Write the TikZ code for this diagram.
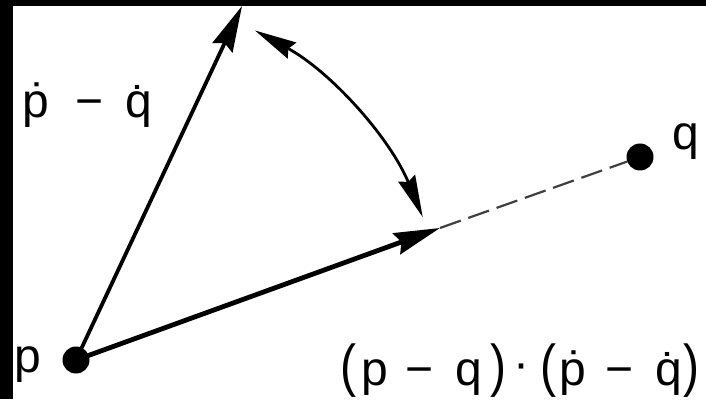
\documentclass[tikz,border=0pt]{standalone}
\usepackage{fontspec}
\usepackage{graphicx}
\setmainfont{Liberation Sans}
\usetikzlibrary{arrows.meta}
\newcommand{\lblfont}{\fontsize{48}{52}\selectfont}
\newcommand{\tallparen}[1]{\scalebox{1}[1.2]{#1}}
\tikzset{
  dotnode/.style={circle, fill=black, inner sep=0pt, minimum size=27pt},
  vecarrow/.style={line width=4.8pt, -{Stealth[length=46pt,width=22pt,inset=5pt]}},
  thinvec/.style={line width=3.8pt, -{Stealth[length=46pt,width=22pt,inset=5pt]}},
  anglearrow/.style={line width=2.8pt, {Stealth[length=42pt,width=18pt,inset=4pt]}-{Stealth[length=42pt,width=18pt,inset=4pt]}},
  dashline/.style={line width=2.2pt, black!75, dash pattern=on 22pt off 8pt},
  lbl/.style={inner sep=0pt, font=\lblfont}
}
\begin{document}
\begin{tikzpicture}[x=1pt,y=1pt]
\useasboundingbox (0,0) rectangle (706,399);
\fill[white] (0,0) rectangle (706,399);
% points
\node[dotnode] (p) at (76,39) {};
\node[dotnode] (q) at (640,242) {};
\coordinate (a) at (242,393);
\coordinate (m) at (440,171);
% vectors
\draw[thinvec] (p.center) -- (a);
\draw[dashline] (m) -- (q);
\draw[vecarrow] (p.center) -- (m);
% angle arrow
\draw[anglearrow] ([shift={(61.5:375pt)}]p.center) arc[start angle=61.5, end angle=22.4, radius=375pt];
% labels
\node[lbl, anchor=base west] (lp) at (14,27) {p};
\node[lbl, anchor=base west] (lq) at (672,249) {q};
\node[lbl, anchor=base west] (ld) at (22,281) {\.{p}\hspace{27pt}−\hspace{22pt}\.{q}};
\node[lbl, anchor=base west] (ldot) at (340,14) {\tallparen{(}\hspace{5.5pt}p\hspace{17pt}−\hspace{22pt}q\hspace{8pt}\tallparen{)}\hspace{7pt}\raisebox{6pt}{·}\hspace{11pt}\tallparen{(}\hspace{3.5pt}\.{p}\hspace{19pt}−\hspace{22pt}\.{q}\hspace{2pt}\tallparen{)}};
% frame strips
\fill[black] (0,393) rectangle (706,399);
\fill[black] (0,0) rectangle (13,399);
\end{tikzpicture}
\end{document}
